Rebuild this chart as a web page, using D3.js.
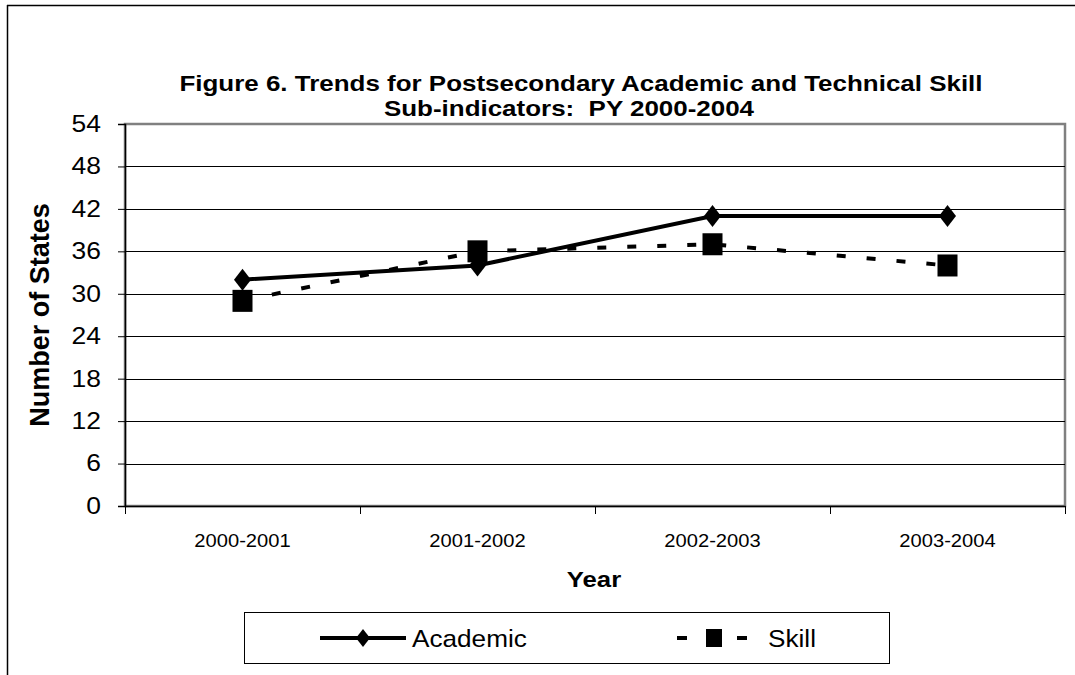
<!DOCTYPE html>
<html>
<head>
<meta charset="utf-8">
<script src="https://cdn.jsdelivr.net/npm/d3@7"></script>
<style>
  html, body { margin: 0; padding: 0; background: #fff; }
  svg { display: block; }
  text { font-family: "Liberation Sans", Arial, sans-serif; fill: #000; }
</style>
</head>
<body>
<svg id="chart" width="1075" height="675"></svg>
<script>
// ---- data ----
const categories = ["2000-2001", "2001-2002", "2002-2003", "2003-2004"];
const academic = [32, 34, 41, 41];
const skill = [29, 36, 37, 34];
const yTicks = [0, 6, 12, 18, 24, 30, 36, 42, 48, 54];
const titleLines = ["Figure 6. Trends for Postsecondary Academic and Technical Skill", "Sub-indicators:  PY 2000-2004"];
const seriesNames = ["Academic", "Skill"];

// ---- layout ----
const W = 1075, H = 675;
const plot = { left: 125, right: 1065, top: 124, bottom: 506 };
const svg = d3.select("#chart");

// horizontally stretched text (reference picture is stretched horizontally)
function stretch(sel, sx) {
  sel.each(function () {
    const t = d3.select(this);
    const tx = +t.attr("x") || 0, ty = +t.attr("y") || 0;
    t.attr("transform", `translate(${tx},${ty}) scale(${sx},1) translate(${-tx},${-ty})`);
  });
}

// outer frame (left and top edges visible, right/bottom cropped)
svg.append("line").attr("x1", 7.5).attr("x2", 7.5).attr("y1", 5).attr("y2", H).attr("stroke", "#000").attr("stroke-width", 1.5);
svg.append("line").attr("x1", 7).attr("x2", W).attr("y1", 5.5).attr("y2", 5.5).attr("stroke", "#000").attr("stroke-width", 1.5);

const x = d3.scaleBand().domain(categories).range([plot.left, plot.right]).padding(0);
const y = d3.scaleLinear().domain([0, 54]).range([plot.bottom, plot.top]);
const xc = d => x(d) + x.bandwidth() / 2;

// plot area border (gray)
svg.append("rect")
  .attr("x", plot.left).attr("y", plot.top)
  .attr("width", plot.right - plot.left).attr("height", plot.bottom - plot.top)
  .attr("fill", "none").attr("stroke", "#808080").attr("stroke-width", 2.5);

// gridlines
svg.append("g").selectAll("line").data(yTicks.filter(t => t > 0 && t < 54)).join("line")
  .attr("x1", plot.left).attr("x2", plot.right)
  .attr("y1", d => Math.round(y(d)) + 0.5).attr("y2", d => Math.round(y(d)) + 0.5)
  .attr("stroke", "#000").attr("stroke-width", 1);

// y axis
const yAxis = d3.axisLeft(y).tickValues(yTicks).tickSize(7).tickPadding(17).tickFormat(d3.format("d"));
const gy = svg.append("g").attr("transform", `translate(${plot.left},0)`).call(yAxis);
gy.select(".domain").attr("stroke", "#000").attr("stroke-width", 1.5);
gy.selectAll(".tick line").attr("stroke", "#000");
gy.selectAll(".tick text").style("font-size", "23px").attr("fill", "#000").call(stretch, 1.15);

// x axis: ticks at category boundaries
const xAxis = d3.axisBottom(x).tickSize(0).tickPadding(28);
const gx = svg.append("g").attr("transform", `translate(0,${plot.bottom})`).call(xAxis);
gx.select(".domain").attr("stroke", "#000").attr("stroke-width", 1.5);
gx.selectAll(".tick text").style("font-size", "18px").attr("fill", "#000").call(stretch, 1.12);
const bounds = categories.map(c => x(c)).concat([x(categories[categories.length - 1]) + x.bandwidth()]);
gx.append("g").selectAll("line").data(bounds).join("line")
  .attr("x1", d => Math.round(d) + 0.5).attr("x2", d => Math.round(d) + 0.5)
  .attr("y1", 0).attr("y2", 8).attr("stroke", "#000");

// titles
svg.append("g").selectAll("text").data(titleLines).join("text")
  .attr("x", (d, i) => (i === 0 ? 581 : 569)).attr("y", (d, i) => 91 + i * 25)
  .attr("text-anchor", "middle").style("font-size", "22px").style("font-weight", "bold")
  .style("white-space", "pre")
  .text(d => d)
  .call(stretch, 1.18);

svg.append("text")
  .attr("transform", `translate(49,${(plot.top + plot.bottom) / 2}) rotate(-90)`)
  .attr("text-anchor", "middle").style("font-size", "27px").style("font-weight", "bold")
  .text("Number of States");

svg.append("text")
  .attr("x", 594).attr("y", 587)
  .attr("text-anchor", "middle").style("font-size", "22px").style("font-weight", "bold")
  .text("Year")
  .call(stretch, 1.17);

// series lines
const line = d3.line().x((d, i) => xc(categories[i])).y(d => y(d));
svg.append("path").datum(academic).attr("d", line)
  .attr("fill", "none").attr("stroke", "#000").attr("stroke-width", 4);
svg.append("path").datum(skill).attr("d", line)
  .attr("fill", "none").attr("stroke", "#000").attr("stroke-width", 4).attr("stroke-dasharray", "9,21");

// markers
const diamond = (cx, cy, w, h) => `M${cx},${cy - h / 2}L${cx + w / 2},${cy}L${cx},${cy + h / 2}L${cx - w / 2},${cy}Z`;
svg.append("g").selectAll("path").data(academic).join("path")
  .attr("d", (d, i) => diamond(xc(categories[i]), y(d), 17, 22)).attr("fill", "#000");
svg.append("g").selectAll("rect").data(skill).join("rect")
  .attr("x", (d, i) => xc(categories[i]) - 10).attr("y", d => y(d) - 11)
  .attr("width", 20).attr("height", 22).attr("fill", "#000");

// legend
const lg = svg.append("g");
lg.append("rect").attr("x", 244.5).attr("y", 612.5).attr("width", 645).attr("height", 51)
  .attr("fill", "#fff").attr("stroke", "#000").attr("stroke-width", 1);
const ly = 638;
lg.append("line").attr("x1", 320).attr("x2", 406).attr("y1", ly).attr("y2", ly).attr("stroke", "#000").attr("stroke-width", 4);
lg.append("path").attr("d", diamond(363, ly, 14, 18)).attr("fill", "#000");
lg.append("text").attr("x", 412).attr("y", ly + 9).style("font-size", "24px").text(seriesNames[0]).call(stretch, 1.09);
lg.append("line").attr("x1", 677).attr("x2", 748).attr("y1", ly).attr("y2", ly).attr("stroke", "#000").attr("stroke-width", 4).attr("stroke-dasharray", "10,20");
lg.append("rect").attr("x", 706).attr("y", ly - 9).attr("width", 16).attr("height", 18).attr("fill", "#000");
lg.append("text").attr("x", 768).attr("y", ly + 9).style("font-size", "24px").text(seriesNames[1]).call(stretch, 1.09);
</script>
</body>
</html>
